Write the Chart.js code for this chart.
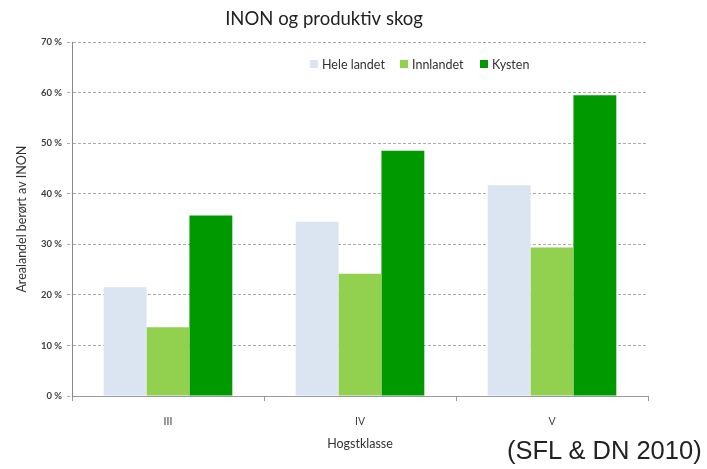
<!DOCTYPE html>
<html>
<head>
<meta charset="utf-8">
<script src="https://cdn.jsdelivr.net/npm/chart.js@4/dist/chart.umd.min.js"></script>
<style>
  html, body { margin: 0; padding: 0; background: #fff; }
  #wrap { position: relative; width: 707px; height: 469px; }
  #source {
    position: absolute; left: 507px; top: 436px;
    font-family: "Liberation Sans", Arial, sans-serif; font-size: 25.5px; color: #222;
  }
</style>
</head>
<body>
<div id="wrap">
  <canvas id="chart" width="707" height="469"></canvas>
  <div id="source">(SFL &amp; DN 2010)</div>
</div>
<script>
const categories = ["III", "IV", "V"];
const seriesNames = ["Hele landet", "Innlandet", "Kysten"];
const heleLandet = [21.5, 34.5, 41.7];
const innlandet = [13.6, 24.2, 29.4];
const kysten = [35.7, 48.5, 59.5];
const colors = ["#dbe5f1", "#92d050", "#009900"];

const FONT = "Lato, 'Open Sans', sans-serif";

// legend drawn inside the plot, like the original
const legendX = [310, 400, 480];
const insideLegend = {
  id: "insideLegend",
  afterDraw(chart) {
    const c = chart.ctx;
    c.save();
    c.font = "12.5px " + FONT;
    c.textBaseline = "middle";
    chart.data.datasets.forEach((ds, i) => {
      c.fillStyle = ds.backgroundColor;
      c.fillRect(legendX[i], 60, 8, 8);
      c.fillStyle = "#333";
      c.fillText(ds.label, legendX[i] + 12, 64.5);
    });
    c.restore();
  },
};

const seriesData = [heleLandet, innlandet, kysten];

new Chart(document.getElementById("chart"), {
  type: "bar",
  data: {
    labels: categories,
    datasets: seriesNames.map((name, i) => ({
      label: name,
      data: seriesData[i],
      backgroundColor: colors[i],
      borderWidth: 0,
    })),
  },
  plugins: [insideLegend],
  options: {
    responsive: false,
    animation: false,
    categoryPercentage: 0.67,
    barPercentage: 1,
    layout: { padding: { left: 0, right: 59, top: 0, bottom: 14 } },
    plugins: {
      legend: { display: false },
      tooltip: { enabled: false },
      title: {
        display: true,
        text: "INON og produktiv skog",
        color: "#222",
        font: { family: FONT, size: 18.5, weight: "normal" },
        padding: { top: 8, bottom: 12 },
      },
    },
    scales: {
      x: {
        grid: { drawOnChartArea: false, drawTicks: true, tickLength: 5, color: "#999" },
        border: { color: "#999" },
        ticks: { color: "#444", font: { family: FONT, size: 10.5 }, padding: 14 },
        title: {
          display: true,
          text: "Hogstklasse",
          color: "#333",
          font: { family: FONT, size: 12.5 },
          padding: { top: 2, bottom: 4 },
        },
        afterFit: (s) => { s.height = 59; },
      },
      y: {
        min: 0,
        max: 70,
        ticks: {
          stepSize: 10,
          color: "#404040",
          font: { family: FONT, size: 9.5, weight: "bold" },
          padding: 5,
          callback: (v) => v + " %",
        },
        grid: { color: "#aaa", tickLength: 5, tickBorderDash: [3, 2] },
        border: { color: "#888", dash: [3, 2] },
        title: {
          display: true,
          text: "Arealandel berørt av INON",
          color: "#333",
          font: { family: FONT, size: 12.5 },
          padding: { top: 14, bottom: 0 },
        },
        afterFit: (s) => { s.width = 72; },
      },
    },
  },
});
</script>
</body>
</html>
